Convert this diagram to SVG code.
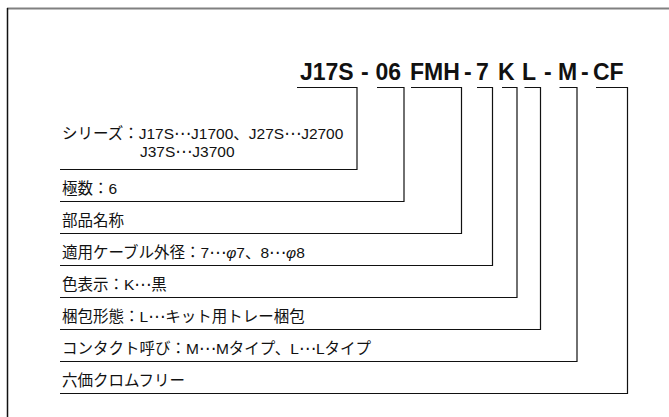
<svg xmlns="http://www.w3.org/2000/svg" width="669" height="417" viewBox="0 0 669 417">
<style>
.lbl{font-family:"Liberation Sans","Noto Sans CJK JP",sans-serif;font-size:15.5px;fill:#111}
.ttl{font-family:"Liberation Sans",Arial,sans-serif;font-size:23px;font-weight:bold;fill:#111}
.ln{fill:none;stroke:#111;stroke-width:1.2}
.phi{font-style:italic}
.el{font-family:"DejaVu Sans",sans-serif;font-size:17px}
</style>
<rect width="669" height="417" fill="#fff"/>
<g id="frame">
<line x1="7" y1="8.5" x2="669" y2="8.5" stroke="#808080" stroke-width="2"/>
<line x1="7.5" y1="8" x2="7.5" y2="417" stroke="#111" stroke-width="1.5"/>
</g>
<g id="title" class="ttl">
<text x="300" y="80">J17S</text>
<text x="361" y="80">-</text>
<text x="375.5" y="80">06</text>
<text x="410" y="80">FMH</text>
<text x="464" y="80">-</text>
<text x="476" y="80">7</text>
<text x="498" y="80">K</text>
<text x="522" y="80">L</text>
<text x="544" y="80">-</text>
<text x="558" y="80">M</text>
<text x="581" y="80">-</text>
<text x="593" y="80">CF</text>
</g>
<g id="connectors" class="ln">
<path d="M297 87.5H357V169.5H60"/>
<path d="M377 87.5H404V201.5H60"/>
<path d="M411 87.5H461.5V233.5H60"/>
<path d="M477 87.5H492.5V265.5H60"/>
<path d="M502 87.5H517V297.5H60"/>
<path d="M524.5 87.5H540.5V329.5H60"/>
<path d="M559.5 87.5H577V361.5H60"/>
<path d="M596 87.5H627.5V393.5H60"/>
</g>
<g id="n-series" class="lbl">
<text x="62" y="138.5">シリーズ：J17S<tspan class="el">⋯</tspan>J1700、J27S<tspan class="el">⋯</tspan>J2700</text>
<text x="140" y="157">J37S<tspan class="el">⋯</tspan>J3700</text>
</g>
<g id="n-poles" class="lbl"><text x="62" y="194">極数：6</text></g>
<g id="n-name" class="lbl"><text x="62" y="226">部品名称</text></g>
<g id="n-cable" class="lbl"><text x="62" y="258">適用ケーブル外径：7<tspan class="el">⋯</tspan><tspan class="phi">φ</tspan>7、8<tspan class="el">⋯</tspan><tspan class="phi">φ</tspan>8</text></g>
<g id="n-color" class="lbl"><text x="62" y="290">色表示：K<tspan class="el">⋯</tspan>黒</text></g>
<g id="n-pack" class="lbl"><text x="62" y="322">梱包形態：L<tspan class="el">⋯</tspan>キット用トレー梱包</text></g>
<g id="n-contact" class="lbl"><text x="62" y="354">コンタクト呼び：M<tspan class="el">⋯</tspan>Mタイプ、L<tspan class="el">⋯</tspan>Lタイプ</text></g>
<g id="n-cf" class="lbl"><text x="62" y="386">六価クロムフリー</text></g>
</svg>
